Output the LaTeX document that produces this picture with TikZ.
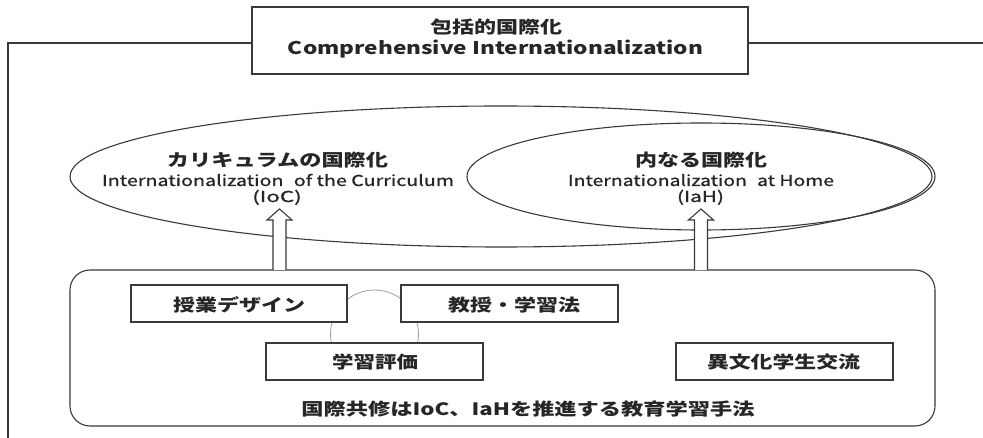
\documentclass[tikz,border=0pt]{standalone}
\usepackage{fontspec}
\usepackage{graphicx}
\setmainfont{Noto Sans CJK JP}
\newfontfamily\enmidfont[FakeBold=0.9]{Noto Sans CJK JP}
\usetikzlibrary{shapes.geometric}
\newcommand\fw[2]{\resizebox{#1pt}{\height}{#2}}
\definecolor{ink}{HTML}{262626}
\definecolor{linec}{HTML}{3A3A3A}
\begin{document}
\begin{tikzpicture}[x=1pt,y=-1pt,line width=1.1pt,draw=linec,
  every node/.style={inner sep=0pt,outer sep=0pt,text=ink},
  txt/.style={anchor=base},
  jpbig/.style={font=\fontsize{17}{17}\selectfont\bfseries},
  enbig/.style={font=\fontsize{17.5}{17.5}\selectfont\bfseries},
  enmid/.style={font=\fontsize{15}{15}\enmidfont},
  sbox/.style={draw=linec,fill=white,minimum width=217pt,minimum height=37pt},
  blockarr/.style={draw=linec,fill=white,line width=1.1pt}]
\useasboundingbox (0,0) rectangle (983,438);
\fill[white] (0,0) rectangle (983,438);

% frame
\coordinate (ftl) at (8,43);
\coordinate (fbl) at (8,440);
\coordinate (fr) at (985,43);
\node[draw=linec,fill=white,minimum width=496pt,minimum height=67pt] (title) at (500,40.5) {};
\draw (title.west |- ftl) -- (ftl) -- (fbl);
\draw (title.east |- fr) -- (fr);
\node[txt,jpbig] (titlejp) at (496,34) {\fw{132}{包括的国際化}};
\node[txt,enbig] (titleen) at (495.5,55) {\fw{415}{Comprehensive Internationalization}};

% ellipses
\node[draw=linec,ellipse,minimum width=862pt,minimum height=141pt] (ioc) at (501,176.5) {};
\node[draw=linec,ellipse,minimum width=468pt,minimum height=107pt] (iah) at (701,176.5) {};

\node[txt,jpbig] (iocjp) at (277.5,167) {\fw{221}{カリキュラムの国際化}};
\node[txt,enmid] (iocen) at (278,186) {\fw{352}{Internationalization\hspace{0.3em} of the Curriculum}};
\node[txt,enmid] (iocab) at (277,202) {\fw{49.5}{(IoC)}};
\node[txt,jpbig] (iahjp) at (701,167) {\fw{132}{内なる国際化}};
\node[txt,enmid] (iahen) at (701,186) {\fw{266}{Internationalization\hspace{0.3em} at Home}};
\node[txt,enmid] (iahab) at (700.5,202) {\fw{47}{(IaH)}};

% method box
\node[draw=linec,rounded corners=20pt,minimum width=865pt,minimum height=156pt] (method) at (502.5,348) {};

% block arrows
\coordinate (iocfoot) at (279.5,270);
\coordinate (iahfoot) at (701,270);
\draw[blockarr] (iocfoot) ++(-6.5,0) -- ++(0,-50) -- ++(-6,0) -- ++(12.5,-11) -- ++(12.5,11) -- ++(-6,0) -- ++(0,50);
\draw[blockarr] (iahfoot) ++(-6.5,0) -- ++(0,-50) -- ++(-6,0) -- ++(12.5,-11) -- ++(12.5,11) -- ++(-6,0) -- ++(0,50);

% cycle circle
\node[circle,draw=gray!75,line width=0.8pt,minimum size=88pt] (cyc) at (374.5,334) {};

% inner boxes
\node[sbox,minimum width=216pt] (design) at (239,303.5) {};
\node[sbox] (teach) at (509.5,303.5) {};
\node[sbox] (assess) at (374.5,361.5) {};
\node[sbox] (exch) at (784.5,361.5) {};
\node[txt,jpbig] (designt) at (239,312) {\fw{132}{授業デザイン}};
\node[txt,jpbig] (teacht) at (514,312) {\fw{132}{教授・学習法}};
\node[txt,jpbig] (assesst) at (375,369) {\fw{86}{学習評価}};
\node[txt,jpbig] (excht) at (783.5,369) {\fw{153}{異文化学生交流}};
\node[txt,jpbig] (motto) at (528,416) {\fw{453}{国際共修はIoC、IaHを推進する教育学習手法}};
\end{tikzpicture}
\end{document}
